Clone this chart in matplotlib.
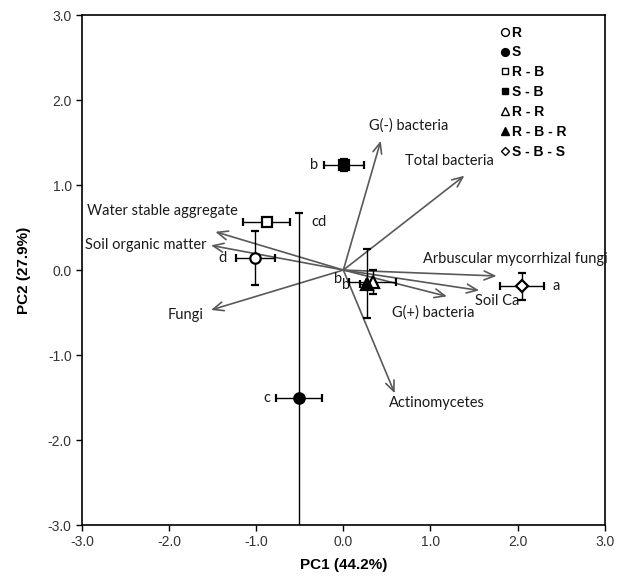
import matplotlib

matplotlib.use("Agg")

import matplotlib.pyplot as plt
from matplotlib.lines import Line2D

# treatment scores (PC1, PC2) with standard errors
groups = ["R", "S", "R - B", "S - B", "R - R", "R - B - R", "S - B - S"]
pc1 = [-1.01, -0.51, -0.88, 0.01, 0.34, 0.27, 2.05]
pc2 = [0.14, -1.50, 0.56, 1.24, -0.14, -0.16, -0.19]
pc1_se = [0.22, 0.26, 0.27, 0.23, 0.27, 0.08, 0.25]
pc2_se = [0.32, 2.17, 0.03, 0.07, 0.14, 0.41, 0.16]
letters = ["d", "c", "cd", "b", "b", "b", "a"]

# variable loadings (arrow tips)
variables = ["G(-) bacteria", "Total bacteria", "Water stable aggregate",
             "Soil organic matter", "Fungi", "Arbuscular mycorrhizal fungi",
             "Soil Ca", "G(+) bacteria", "Actinomycetes"]
load1 = [0.43, 1.39, -1.47, -1.52, -1.52, 1.76, 1.56, 1.19, 0.59]
load2 = [1.52, 1.11, 0.45, 0.29, -0.47, -0.07, -0.24, -0.31, -1.45]

# styling / layout
markers = ["o", "o", "s", "s", "^", "^", "D"]
filled = [False, True, False, True, False, True, False]
msize = [7.5, 7.5, 6.5, 6.5, 8, 8, 6]
# letter offsets in pixels (right, down)
letter_off = [(-33, 0), (-32, 0), (52, 0), (-30, 0), (-35, -3), (-21, 1), (34, 0)]
# label offsets in pixels from arrow tip (right, up), with horizontal alignment
var_off = [(-12, 15, "left"), (-59, 15, "left"), (23, 21, "right"), (-4, 0, "right"),
           (-7, -5, "right"), (-74, 17, "left"), (-4, -11, "left"), (-55, -16, "left"),
           (-6, -10, "left")]

TXT = ["Lato", "DejaVu Sans"]
ARIAL = ["Liberation Sans", "DejaVu Sans"]
txt_col = "#1a1a1a"

fig = plt.figure(figsize=(6.22, 5.77), dpi=100)
ax = fig.add_axes([0.132, 0.090, 0.840, 0.884])

for name, x, y, (dx, dy, ha) in zip(variables, load1, load2, var_off):
    ax.annotate("", xy=(x, y), xytext=(0, 0),
                arrowprops=dict(arrowstyle="->,head_length=0.75,head_width=0.32",
                                color="#595959", lw=1.2, shrinkA=0, shrinkB=0))
    ax.annotate(name, xy=(x, y), xytext=(dx, dy), textcoords="offset pixels",
                ha=ha, va="center", fontsize=10.5, family=TXT, color=txt_col)

for i, g in enumerate(groups):
    face = "black" if filled[i] else "white"
    ax.errorbar(pc1[i], pc2[i], xerr=pc1_se[i], yerr=pc2_se[i], fmt=markers[i],
                ms=msize[i], mfc=face, mec="black", mew=1.6, ecolor="black",
                elinewidth=1.0, capsize=3, capthick=1.0, zorder=3)
    dx, dy = letter_off[i]
    ax.annotate(letters[i], xy=(pc1[i], pc2[i]), xytext=(dx, -dy),
                textcoords="offset pixels", ha="center", va="center",
                fontsize=10.5, family=TXT, color=txt_col)

ax.set_xlim(-3, 3)
ax.set_ylim(-3, 3)
ax.set_xticks([-3, -2, -1, 0, 1, 2, 3])
ax.set_yticks([-3, -2, -1, 0, 1, 2, 3])
ax.set_xticklabels([f"{v:.1f}" for v in ax.get_xticks()], family=ARIAL, fontsize=10)
ax.set_yticklabels([f"{v:.1f}" for v in ax.get_yticks()], family=ARIAL, fontsize=10)
ax.tick_params(direction="out", length=4, width=1, colors="black", labelcolor="#333333")
for sp in ax.spines.values():
    sp.set_linewidth(1.2)
ax.set_xlabel("PC1 (44.2%)", family=ARIAL, fontsize=11, fontweight="bold", labelpad=6)
ax.set_ylabel("PC2 (27.9%)", family=ARIAL, fontsize=11, fontweight="bold", labelpad=12)

handles = [Line2D([], [], ls="none", marker=m, ms=s * 0.75,
                  mfc="black" if f else "white", mec="black", mew=1.0)
           for m, f, s in zip(markers, filled, msize)]
ax.legend(handles, groups, loc="upper left", bbox_to_anchor=(0.79, 0.99),
          frameon=False, handlelength=0.6, handletextpad=0.2, labelspacing=0.42,
          borderaxespad=0, prop=dict(family=ARIAL, weight="bold", size=10))

fig.savefig("out.png", dpi=100)
